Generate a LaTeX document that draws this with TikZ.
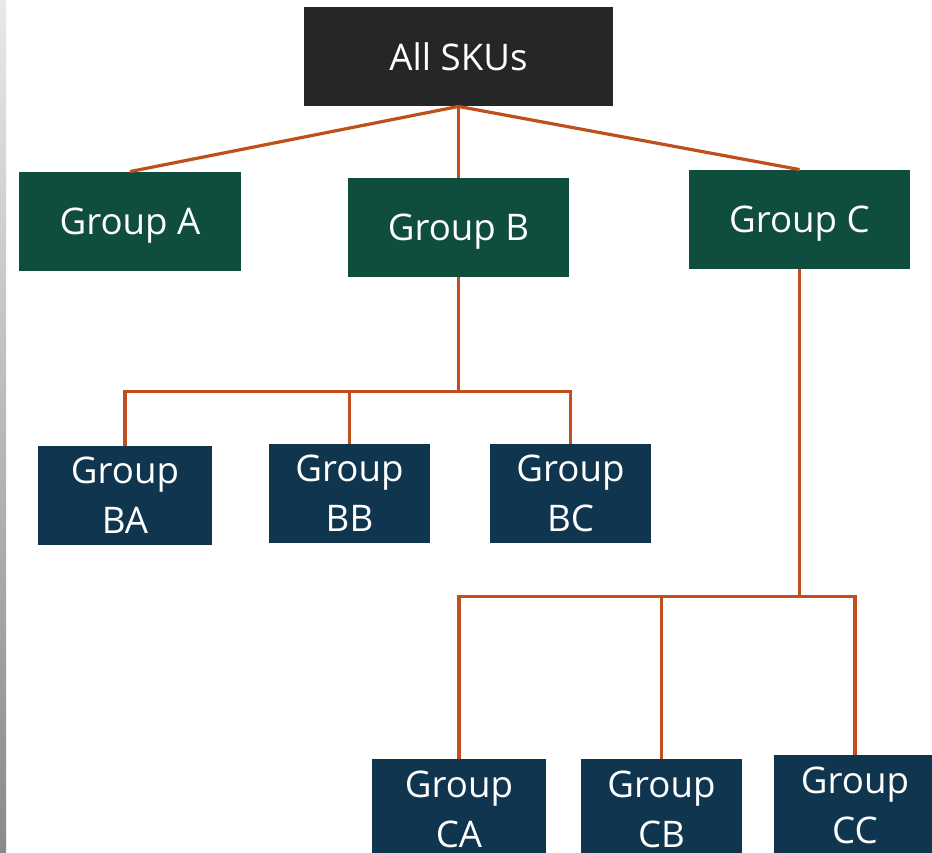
\documentclass[tikz,border=0pt]{standalone}
\usepackage{fontspec}
\setmainfont{Open Sans}
\usepackage{tikz}
\usetikzlibrary{positioning}
\definecolor{Coal}{HTML}{262626}
\definecolor{Pine}{HTML}{0F4E3C}
\definecolor{Navy}{HTML}{10354F}
\definecolor{Rust}{HTML}{C04F1E}
\definecolor{EdgeTop}{HTML}{E8E8E8}
\definecolor{EdgeBot}{HTML}{8A8A8A}
\tikzset{
  link/.style={line width=2.4pt,draw=Rust},
  boxbase/.style={rectangle,minimum height=74.5pt,inner sep=0pt,
    draw=none,text=white,font=\fontsize{27.5}{37.5}\selectfont},
  topbox/.style={boxbase,fill=Coal,minimum width=232pt},
  groupbox/.style={boxbase,fill=Pine,minimum width=166pt,text height=26pt,text depth=6.6pt},
  subbox/.style={boxbase,fill=Navy,align=center},
}
\begin{document}
\begin{tikzpicture}[x=0.75pt,y=-0.75pt]
    \clip (0,0) rectangle (932,853);
    \fill[white] (0,0) rectangle (932,853);
    \shade[top color=EdgeTop,bottom color=EdgeBot] (0,0) rectangle (6,853);

    \node[topbox] (all) at (458.5,56.5) {All SKUs};
    \node[groupbox] (ga) at (130,221.5) {Group A};
    \node[groupbox] (gb) at (458.5,227.5) {Group B};
    \node[groupbox] (gc) at (799.5,219.5) {Group C};
    \node[subbox,minimum width=130.5pt] (gba) at (125,495.5) {Group\\BA};
    \node[subbox,minimum width=121pt] (gbb) at (349.5,493.5) {Group\\BB};
    \node[subbox,minimum width=121pt] (gbc) at (570.5,493.5) {Group\\BC};
    \node[subbox,minimum width=130.5pt] (gca) at (459,809) {Group\\CA};
    \node[subbox,minimum width=121pt] (gcb) at (661.5,809) {Group\\CB};
    \node[subbox,minimum width=121pt] (gcc) at (855,805) {Group\\CC};

    \coordinate (busb) at (458.5,391.5);
    \coordinate (busc) at (799.5,596.5);

    \draw[link] (all.south) -- (ga.north);
    \draw[link] (all.south) -- (gb.north);
    \draw[link] (all.south) -- (gc.north);
    \draw[link] (gb.south) -- (busb) -| (gba.north);
    \draw[link] (busb) -| (gbb.north);
    \draw[link] (busb) -| (gbc.north);
    \draw[link] (gc.south) -- (busc) -| (gca.north);
    \draw[link] (busc) -| (gcb.north);
    \draw[link] (busc) -| (gcc.north);
  \end{tikzpicture}
\end{document}
